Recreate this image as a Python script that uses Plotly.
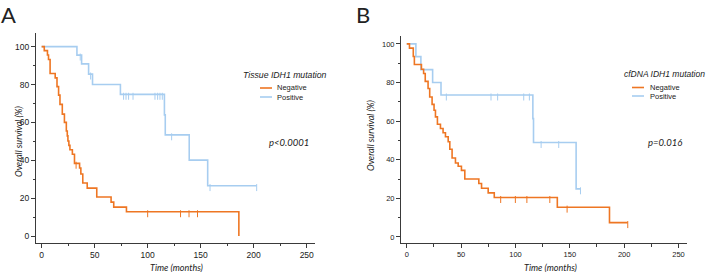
import plotly.graph_objects as go

# ---------------- Data ----------------
# Panel A: Tissue IDH1 mutation
a_neg_t = [0, 2.5, 5.5, 6.5, 8, 12.8, 14.5, 16, 17.3, 19.5, 21.5, 23.3, 24.2, 24.8, 25.7, 26.7,
           29, 31, 35.8, 37, 38.8, 43, 52, 65.5, 68, 80, 186]
a_neg_s = [100, 97.9, 95.6, 93.2, 85.8, 83.5, 78.9, 74.4, 69.5, 64.4, 60.0, 55.5, 52.9, 50.2, 47.9, 45.6,
           43.2, 38.4, 35.9, 32.8, 28.0, 25.3, 20.6, 17.9, 15.3, 12.8, 0]
a_neg_cens_t = [32.5, 100, 131, 139, 147]
a_neg_cens_s = [38.4, 12.8, 12.8, 12.8, 12.8]

a_pos_t = [0, 33.3, 37.7, 44.3, 48, 74.3, 115.8, 116.6, 139.2, 156.6, 202.8]
a_pos_s = [100, 95.5, 90.9, 85.5, 80.0, 74.8, 64.0, 53.4, 40.1, 26.6, 26.6]
a_pos_cens_t = [36.4, 46.2, 77.3, 79.6, 82.0, 86.2, 106.9, 109.4, 111.6, 113.8, 122.6, 158.8, 202.8]
a_pos_cens_s = [95.5, 85.5, 74.8, 74.8, 74.8, 74.8, 74.8, 74.8, 74.8, 74.8, 53.4, 26.6, 26.6]

# Panel B: cfDNA IDH1 mutation
b_neg_t = [0, 2.5, 6, 7, 13.5, 15.5, 17, 19.6, 21.1, 23.3, 25.1, 26.4, 28.2, 31, 33.4, 35.6,
           38.1, 39.6, 41.7, 44.8, 47.3, 50.3, 53.4, 66.3, 68.8, 74.9, 80.5, 138.5, 186.5, 203.3]
b_neg_s = [100, 97.8, 93.5, 89.3, 86.9, 84.7, 80.6, 76.9, 72.5, 68.7, 65.6, 62.2, 58.4, 56.2, 54.0, 51.9,
           49.3, 45.4, 40.9, 38.3, 36.6, 34.5, 30.0, 27.7, 25.2, 22.8, 20.4, 15.4, 7.4, 7.4]
b_neg_cens_t = [86.4, 99.9, 110.5, 131.6, 147.5, 203.3]
b_neg_cens_s = [20.4, 20.4, 20.4, 20.4, 15.4, 7.4]

b_pos_t = [0, 8.4, 13, 23.8, 31.5, 116.0, 116.6, 155.8, 159.8]
b_pos_s = [100, 93.4, 86.7, 80.0, 73.5, 61.3, 48.9, 24.9, 24.9]
b_pos_cens_t = [36.4, 77.5, 83.6, 107.6, 112.8, 123.6, 139.8, 159.8]
b_pos_cens_s = [73.5, 73.5, 73.5, 73.5, 73.5, 48.9, 48.9, 24.9]

x_ticks = [0, 50, 100, 150, 200, 250]
y_ticks = [0, 20, 40, 60, 80, 100]

ORANGE = "#EE7623"
BLUE = "#A7CDF0"
AXIS = "#3a3a3a"
W, H = 708, 272


def px(x):
    return x / W


def py(y):
    return 1 - y / H


fig = go.Figure()


def add_curve(t, s, ct, cs, color, xa, ya, name):
    fig.add_trace(go.Scatter(x=t, y=s, mode="lines", line=dict(color=color, width=1.6, shape="hv"),
                             xaxis=xa, yaxis=ya, name=name, showlegend=False, hoverinfo="x+y"))
    fig.add_trace(go.Scatter(x=ct, y=[v - 1.0 for v in cs], mode="markers",
                             marker=dict(symbol="line-ns", size=5, line=dict(color=color, width=1)),
                             xaxis=xa, yaxis=ya, name=name + " (censored)", showlegend=False,
                             hoverinfo="x"))


add_curve(a_pos_t, a_pos_s, a_pos_cens_t, a_pos_cens_s, BLUE, "x", "y", "Positive")
add_curve(a_neg_t, a_neg_s, a_neg_cens_t, a_neg_cens_s, ORANGE, "x", "y", "Negative")
add_curve(b_pos_t, b_pos_s, b_pos_cens_t, b_pos_cens_s, BLUE, "x2", "y2", "Positive")
add_curve(b_neg_t, b_neg_s, b_neg_cens_t, b_neg_cens_s, ORANGE, "x2", "y2", "Negative")

tickfont_a = dict(family="Liberation Sans, Arial, sans-serif", size=8.5, color="#1a1a1a")
tickfont_b = dict(family="Liberation Sans, Arial, sans-serif", size=7.5, color="#222")


def xaxis(domain, anchor, font):
    return dict(domain=domain, anchor=anchor, range=[-5.3, 257.8], tickvals=x_ticks,
                showline=True, linecolor=AXIS, linewidth=1, ticks="outside", ticklen=4,
                tickcolor=AXIS, tickwidth=1, showgrid=False, zeroline=False, tickfont=font,
                minor=dict(dtick=25, tick0=0, ticks="outside", ticklen=2.5, tickcolor=AXIS, showgrid=False))


def yaxis(domain, anchor, rng, font):
    return dict(domain=domain, anchor=anchor, range=rng, tickvals=y_ticks,
                showline=True, linecolor=AXIS, linewidth=1, ticks="outside", ticklen=4,
                tickcolor=AXIS, tickwidth=1, showgrid=False, zeroline=False, tickfont=font,
                minor=dict(dtick=10, tick0=0, ticks="outside", ticklen=2.5, tickcolor=AXIS, showgrid=False))


fig.update_layout(
    width=W, height=H, margin=dict(l=0, r=0, t=0, b=0),
    paper_bgcolor="white", plot_bgcolor="white", showlegend=False,
    xaxis=xaxis([px(36), px(315)], "y", tickfont_a),
    yaxis=yaxis([py(242.7), py(33)], "x", [-3.5, 107.2], tickfont_a),
    xaxis2=xaxis([px(401), px(687)], "y2", tickfont_b),
    yaxis2=yaxis([py(243.3), py(36)], "x2", [-3.3, 104.1], tickfont_b),
)

ital = dict(family="Lato, 'Open Sans', sans-serif", size=9, color="#222", style="italic")
reg = dict(family="Liberation Sans, Arial, sans-serif", size=8, color="#222")
label_font = dict(family="Lato, 'Open Sans', sans-serif", size=22, color="#222")

ann = []
# panel labels
ann.append(dict(text="A", x=px(0), y=1, xanchor="left", yanchor="top", borderpad=0, font=label_font))
ann.append(dict(text="B", x=px(355), y=1, xanchor="left", yanchor="top", borderpad=0, font=label_font))
# axis titles
ann.append(dict(text="Overall survival (%)", x=px(18), y=py(142), textangle=-90, xanchor="center",
                yanchor="middle", font=ital))
ann.append(dict(text="Overall survival (%)", x=px(370), y=py(136), textangle=-90, xanchor="center",
                yanchor="middle", font=ital))
ann.append(dict(text="Time (months)", x=px(176), y=py(267.5), xanchor="center", yanchor="middle",
                font=ital))
ann.append(dict(text="Time (months)", x=px(550), y=py(267.5), xanchor="center", yanchor="middle",
                font=ital))
# p values
ann.append(dict(text="p<0.0001", x=px(267), y=py(142.5), xanchor="left", yanchor="middle",
                font=dict(ital, size=9.5)))
ann.append(dict(text="p=0.016", x=px(646), y=py(142.5), xanchor="left", yanchor="middle",
                font=dict(ital, size=9.5)))
# manual legends
ann.append(dict(text="<i>Tissue IDH1 mutation</i>", x=px(242), y=py(75), xanchor="left", yanchor="middle",
                borderpad=0, font=dict(family="Liberation Sans, Arial, sans-serif", size=8.7, color="#222")))
ann.append(dict(text="<i>cfDNA IDH1 mutation</i>", x=px(623), y=py(74), xanchor="left", yanchor="middle",
                borderpad=0, font=dict(family="Liberation Sans, Arial, sans-serif", size=8.5, color="#222")))
shapes = []
for (lx, tx, y0, y1) in [(260, 275, 88, 97), (632, 648, 87.5, 96)]:
    for yy, col, name in [(y0, ORANGE, "Negative"), (y1, BLUE, "Positive")]:
        shapes.append(dict(type="line", xref="paper", yref="paper", x0=px(lx), x1=px(lx + 12),
                           y0=py(yy), y1=py(yy), line=dict(color=col, width=1.6)))
        ann.append(dict(text=name, x=px(tx), y=py(yy), xanchor="left", yanchor="middle",
                        font=dict(reg, size=7.5)))

for a in ann:
    a.update(xref="paper", yref="paper", showarrow=False)
fig.update_layout(annotations=ann, shapes=shapes)

fig.write_html("out.html", config={"displayModeBar": False},
               post_script="document.body.style.margin='0';document.body.style.overflow='hidden';")
